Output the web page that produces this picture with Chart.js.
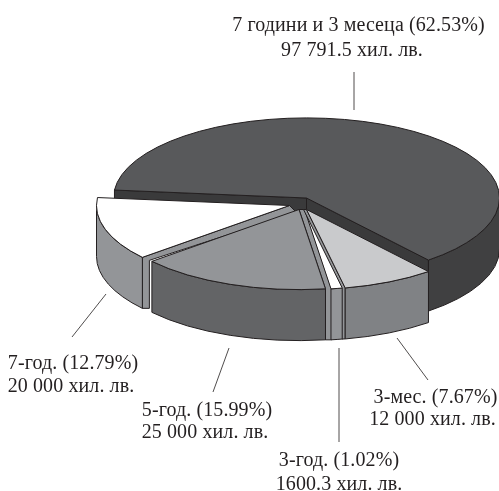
<!DOCTYPE html>
<html><head><meta charset="utf-8">
<style>html,body{margin:0;padding:0;background:#fff}canvas{display:block}</style>
<script src="https://cdn.jsdelivr.net/npm/chart.js@4"></script>
</head><body>
<canvas id="c" width="499" height="491"></canvas>
<script>
const categories = ['7 години и 3 месеца', '3-мес.', '3-год.', '5-год.', '7-год.'];
const values = [97791.5, 12000, 1600.3, 25000, 20000];
const shareLabels = ['7 години и 3 месеца (62.53%)', '3-мес. (7.67%)', '3-год. (1.02%)', '5-год. (15.99%)', '7-год. (12.79%)'];
const amountLabels = ['97 791.5 хил. лв.', '12 000 хил. лв.', '1600.3 хил. лв.', '25 000 хил. лв.', '20 000 хил. лв.'];

const topColors = ['#58595b', '#c9cacc', '#ffffff', '#939598', '#ffffff'];
const rimColors = ['#404041', '#808285', '#939598', '#636466', '#939598'];
const cutColors = ['#3a3a3b', '#939598', '#939598', '#939598', '#939598'];
const shifts = [[0, 0], [0, 11.5], [-2, 11.5], [-7.5, 11.5], [-17, 7.5]];
const paintOrder = [0, 4, 3, 2, 1];
// visible cut-face strips: which edge of the slice, how wide the strip opens at the rim and at the apex
const stripEdge = [null, 'end', null, 'start', 'start'];
const stripOpen = [null, [-3, 0], null, [6, 0], [7, 3]];
const stripApex = [null, [-3, 0], null, [6, 0], [7, 7]];
const TILT = 0.415, DEPTH = 51, CY = 198, INK = '#231f20';

const labelBoxes = [
  { x: [358.5, 352], y: [25.5, 50.5] }, { x: [435.5, 432.5], y: [397.5, 419.5] }, { x: [339, 339], y: [460.5, 484.5] },
  { x: [207, 205], y: [410.5, 432.5] }, { x: [73, 71], y: [363.5, 386.5] }
];
const leaders = [
  [354, 72, 354, 110], [397, 338, 428, 380], [339, 348, 339, 442],
  [229, 348, 213, 392], [106, 294, 72, 337]
];

const pie3d = {
  id: 'pie3d',
  beforeDatasetsDraw(chart) {
    const ctx = chart.ctx, arcs = chart.getDatasetMeta(0).data;
    ctx.save();
    ctx.lineJoin = 'round';
    ctx.lineWidth = 1;
    ctx.strokeStyle = INK;
    const paint = (fill) => { ctx.fillStyle = fill; ctx.fill(); ctx.stroke(); };
    for (const i of paintOrder) {
      const a = arcs[i], r = a.outerRadius;
      const cx = a.x + shifts[i][0], cy = CY + shifts[i][1];
      const a0 = a.startAngle, a1 = a.endAngle;
      const px = t => cx + r * Math.cos(t), py = t => cy + r * TILT * Math.sin(t);
      if (i === 0) {
        for (const t of [a1, a0]) {
          ctx.beginPath();
          ctx.moveTo(cx, cy); ctx.lineTo(px(t), py(t));
          ctx.lineTo(px(t), py(t) + DEPTH); ctx.lineTo(cx, cy + DEPTH);
          ctx.closePath();
          paint(cutColors[i]);
        }
      }
      if (stripEdge[i]) {
        const t = stripEdge[i] === 'start' ? a0 : a1, [w, d] = stripOpen[i], [aw, ad] = stripApex[i];
        ctx.beginPath();
        ctx.moveTo(cx, cy); ctx.lineTo(px(t), py(t));
        ctx.lineTo(px(t), py(t) + DEPTH); ctx.lineTo(px(t) + w, py(t) + DEPTH);
        ctx.lineTo(px(t) + w, py(t) + d); ctx.lineTo(cx + aw, cy + ad);
        ctx.closePath();
        paint(cutColors[i]);
      }
      for (let n = -1; n <= 2; n++) {
        const lo = Math.max(a0, 2 * Math.PI * n), hi = Math.min(a1, 2 * Math.PI * n + Math.PI);
        if (hi <= lo) continue;
        ctx.beginPath();
        ctx.ellipse(cx, cy, r, r * TILT, 0, lo, hi);
        ctx.ellipse(cx, cy + DEPTH, r, r * TILT, 0, hi, lo, true);
        ctx.closePath();
        paint(rimColors[i]);
      }
      ctx.save();
      ctx.translate(cx, cy);
      ctx.scale(1, TILT);
      ctx.translate(-a.x, -a.y);
      a.draw(ctx);
      ctx.restore();
      ctx.beginPath();
      ctx.moveTo(cx, cy);
      ctx.ellipse(cx, cy, r, r * TILT, 0, a0, a1);
      ctx.closePath();
      ctx.stroke();
    }
    ctx.restore();
    return false;
  },
  afterDraw(chart) {
    const ctx = chart.ctx;
    ctx.save();
    ctx.strokeStyle = INK;
    ctx.lineWidth = 0.8;
    for (const [x1, y1, x2, y2] of leaders) {
      ctx.beginPath(); ctx.moveTo(x1, y1); ctx.lineTo(x2, y2); ctx.stroke();
    }
    ctx.fillStyle = INK;
    ctx.font = '20px "Liberation Serif"';
    ctx.letterSpacing = '0.1px';
    ctx.textAlign = 'center';
    ctx.textBaseline = 'middle';
    labelBoxes.forEach((b, i) => {
      ctx.fillText(shareLabels[i], b.x[0], b.y[0]);
      ctx.fillText(amountLabels[i], b.x[1], b.y[1]);
    });
    ctx.restore();
  }
};

new Chart(document.getElementById('c'), {
  type: 'pie',
  data: { labels: categories, datasets: [{ data: values, backgroundColor: topColors, borderWidth: 0 }] },
  options: {
    responsive: false,
    animation: false,
    rotation: 275.7,
    radius: 193,
    layout: { padding: { left: 114, right: 0, top: 0, bottom: 0 } },
    plugins: { legend: { display: false }, tooltip: { enabled: false } }
  },
  plugins: [pie3d]
});
</script>
</body></html>
